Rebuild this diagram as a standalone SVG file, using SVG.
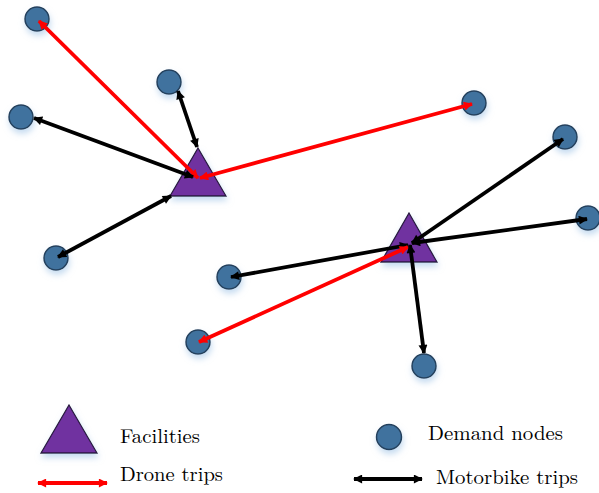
<svg xmlns="http://www.w3.org/2000/svg" width="599" height="493" viewBox="0 0 599 493">
<style>
.node{fill:#41729e;stroke:#24415d;stroke-width:1.5}
.fac{fill:#7030a0;stroke:#2a1840;stroke-width:1.3}
.red{stroke:#ff0000;stroke-width:3.8;fill:none;marker-start:url(#ar);marker-end:url(#ar)}
.blk{stroke:#000;stroke-width:3.8;fill:none;marker-start:url(#ab);marker-end:url(#ab)}
.lbl{font-family:"Latin Modern Roman","DejaVu Serif","Liberation Serif",serif;font-size:20px;fill:#000}
</style>
<defs>
<filter id="sh" x="-50%" y="-50%" width="200%" height="200%">
<feGaussianBlur in="SourceAlpha" stdDeviation="3"/>
<feOffset dx="1" dy="4" result="b"/>
<feFlood flood-color="#9fc3e6" flood-opacity="0.6"/>
<feComposite in2="b" operator="in"/>
<feMerge><feMergeNode/><feMergeNode in="SourceGraphic"/></feMerge>
</filter>
<marker id="ar" viewBox="0 0 10 10" refX="9" refY="5" markerWidth="10" markerHeight="9" markerUnits="userSpaceOnUse" orient="auto-start-reverse"><path d="M0,0 L10,5 L0,10 z" fill="#ff0000"/></marker>
<marker id="ab" viewBox="0 0 10 10" refX="9" refY="5" markerWidth="10" markerHeight="9" markerUnits="userSpaceOnUse" orient="auto-start-reverse"><path d="M0,0 L10,5 L0,10 z" fill="#000"/></marker>
</defs>
<g id="nodes" filter="url(#sh)">
<g id="n1"><circle class="node" cx="37" cy="19" r="12"/></g>
<g id="n2"><circle class="node" cx="169" cy="82" r="12"/></g>
<g id="n3"><circle class="node" cx="21" cy="117" r="12"/></g>
<g id="n4"><circle class="node" cx="56" cy="258" r="12"/></g>
<g id="n5"><circle class="node" cx="474" cy="103" r="12"/></g>
<g id="n6"><circle class="node" cx="565" cy="137" r="12"/></g>
<g id="n7"><circle class="node" cx="588" cy="218" r="12"/></g>
<g id="n8"><circle class="node" cx="229" cy="277" r="12"/></g>
<g id="n9"><circle class="node" cx="198" cy="342" r="12"/></g>
<g id="n10"><circle class="node" cx="424" cy="366" r="12"/></g>
<g id="f1"><polygon class="fac" points="198,148 226,196 170,196"/></g>
<g id="f2"><polygon class="fac" points="409,213 437,262 381,262"/></g>
</g>
<g id="connectors">
<line class="red" x1="39" y1="21" x2="198" y2="178"/>
<line class="red" x1="472" y1="104" x2="200" y2="178"/>
<line class="blk" x1="178" y1="91" x2="197" y2="147"/>
<line class="blk" x1="34" y1="118" x2="193" y2="177"/>
<line class="blk" x1="58" y1="257" x2="171" y2="196"/>
<line class="blk" x1="563" y1="139" x2="412" y2="243"/>
<line class="blk" x1="587" y1="219" x2="412" y2="243"/>
<line class="blk" x1="231" y1="277" x2="408" y2="245"/>
<line class="red" x1="199" y1="342" x2="408" y2="247"/>
<line class="blk" x1="424" y1="353" x2="410" y2="245"/>
</g>
<g id="legend">
<g id="leg-fac" filter="url(#sh)"><polygon class="fac" points="69,405 97,453 41,453"/></g>
<text class="lbl" x="120" y="443" textLength="80" lengthAdjust="spacingAndGlyphs">Facilities</text>
<g id="leg-node" filter="url(#sh)"><circle class="node" cx="389" cy="437" r="12.5"/></g>
<text class="lbl" x="428" y="440" textLength="135" lengthAdjust="spacingAndGlyphs">Demand nodes</text>
<line class="red" x1="38" y1="483" x2="107" y2="483"/>
<text class="lbl" x="120" y="481" textLength="103" lengthAdjust="spacingAndGlyphs">Drone trips</text>
<line class="blk" x1="354" y1="479" x2="422" y2="479"/>
<text class="lbl" x="436" y="484" textLength="142" lengthAdjust="spacingAndGlyphs">Motorbike trips</text>
</g>
</svg>
